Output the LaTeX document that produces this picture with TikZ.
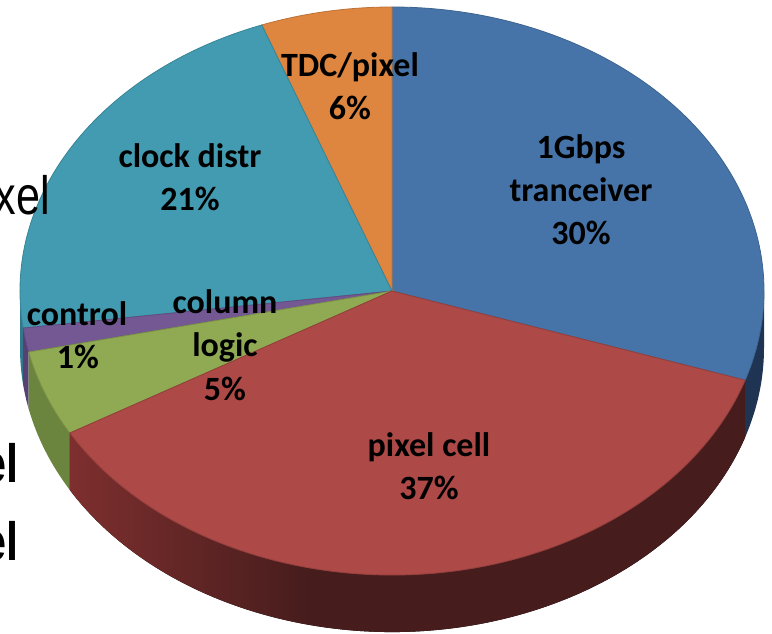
\documentclass[tikz,border=0pt]{standalone}
\usepackage{fontspec}
\newfontfamily\lblfont{Carlito}
\newfontfamily\arialfont{Liberation Sans}
\definecolor{topblue}{RGB}{71,116,168}
\definecolor{topred}{RGB}{173,73,70}
\definecolor{topgreen}{RGB}{143,170,82}
\definecolor{toppurple}{RGB}{115,88,148}
\definecolor{topteal}{RGB}{66,155,176}
\definecolor{toporange}{RGB}{222,134,63}
\definecolor{sideblue}{RGB}{30,52,82}
\definecolor{sideredA}{RGB}{125,47,46}
\definecolor{sideredB}{RGB}{70,28,28}
\definecolor{sidegreen}{RGB}{107,133,62}
\definecolor{sidepurple}{RGB}{85,65,115}
\definecolor{sideteal}{RGB}{50,120,140}
\pgfdeclarehorizontalshading{redside}{100bp}{color(0bp)=(sideredA); color(25bp)=(sideredA); color(43bp)=(sideredB); color(100bp)=(sideredB)}
\newcommand\pieside[3]{%
  \fill[#3] (C) ++(#1:372pt and 284pt) arc[start angle=#1,end angle=#2,x radius=372pt,y radius=284pt]
    -- ++(0,-57pt) arc[start angle=#2,end angle=#1,x radius=372pt,y radius=284pt] -- cycle;}
\newcommand\pietop[3]{%
  \filldraw[#3] (C) -- ++(#1:372pt and 284pt) arc[start angle=#1,end angle=#2,x radius=372pt,y radius=284pt] -- cycle;}
\tikzset{
  lbl/.style={font=\lblfont\bfseries\fontsize{34}{43}\selectfont, inner sep=0pt, anchor=base, text=black},
  bgtext/.style={font=\arialfont\fontsize{54}{60}\selectfont, inner sep=0pt, anchor=base east, xscale=0.8, text=black},
  bgbold/.style={bgtext, font=\arialfont\bfseries\fontsize{54}{60}\selectfont}
}
\begin{document}
\begin{tikzpicture}[x=1pt,y=1pt]
\useasboundingbox (0,0) rectangle (772,633);
\clip (0,0) rectangle (772,633);
\coordinate (C) at (392,342);
% side walls
\pieside{180}{187.5}{sideteal}
\pieside{187.5}{192.4}{sidepurple}
\pieside{192.4}{210}{sidegreen}
\pieside{210}{341.7}{shading=redside}
\pieside{341.7}{360}{sideblue}
% top faces
\pietop{341.7}{450}{fill=topblue, draw=topblue!85!black, line width=0.8pt}
\pietop{90}{110.5}{fill=toporange, draw=toporange!85!black, line width=0.8pt}
\pietop{110.5}{187.5}{fill=topteal, draw=topteal!85!black, line width=0.8pt}
\pietop{187.5}{192.4}{fill=toppurple, draw=toppurple!85!black, line width=0.8pt}
\pietop{192.4}{210}{fill=topgreen, draw=topgreen!85!black, line width=0.8pt}
\pietop{210}{341.7}{fill=topred, draw=topred!85!black, line width=0.8pt}
% labels
\node[lbl] (tdc) at (350,556) {TDC/pixel};
\node[lbl] (tdcp) at (350,513) {6\%};
\node[lbl] (clk) at (190,465) {clock distr};
\node[lbl] (clkp) at (190,422) {21\%};
\node[lbl] (gb1) at (581,474) {1Gbps};
\node[lbl] (gb2) at (581,431) {tranceiver};
\node[lbl] (gbp) at (581,388) {30\%};
\node[lbl] (ctl) at (77,307) {control};
\node[lbl] (ctlp) at (78,264) {1\%};
\node[lbl] (col1) at (225,319) {column};
\node[lbl] (col2) at (225,276) {logic};
\node[lbl] (colp) at (225,233) {5\%};
\node[lbl] (pix) at (429,177) {pixel cell};
\node[lbl] (pixp) at (429,134) {37\%};
% background text fragments
\node[bgtext] (bg1) at (50,418) {xel};
\node[bgbold] (bg2) at (19,150) {el};
\node[bgbold] (bg3) at (19,73) {el};
\end{tikzpicture}
\end{document}
